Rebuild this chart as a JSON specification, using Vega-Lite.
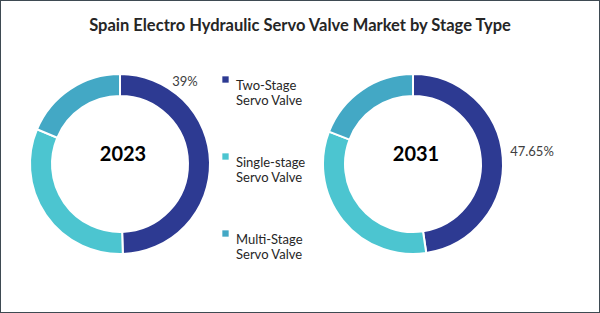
{
  "$schema": "https://vega.github.io/schema/vega-lite/v6.json",
  "width": 600,
  "height": 313,
  "autosize": {"type": "none"},
  "padding": 0,
  "background": "white",
  "title": {
    "text": "Spain Electro Hydraulic Servo Valve Market by Stage Type",
    "font": "Lato",
    "fontSize": 16.5,
    "fontWeight": "bold",
    "color": "#262626",
    "anchor": "middle",
    "offset": -34
  },
  "config": {
    "view": {"stroke": "#3e4a52", "strokeWidth": 2},
    "text": {"font": "Lato"}
  },
  "data": {
    "values": [
      {"year": "2023", "segment": "Two-Stage Servo Valve", "idx": 1, "value": 49.5, "label": "39%"},
      {"year": "2023", "segment": "Single-stage Servo Valve", "idx": 2, "value": 31.8, "label": ""},
      {"year": "2023", "segment": "Multi-Stage Servo Valve", "idx": 3, "value": 18.7, "label": ""},
      {"year": "2031", "segment": "Two-Stage Servo Valve", "idx": 1, "value": 47.65, "label": "47.65%"},
      {"year": "2031", "segment": "Single-stage Servo Valve", "idx": 2, "value": 33.2, "label": ""},
      {"year": "2031", "segment": "Multi-Stage Servo Valve", "idx": 3, "value": 19.15, "label": ""}
    ]
  },
  "transform": [
    {"stack": "value", "groupby": ["year"], "sort": [{"field": "idx", "order": "ascending"}], "as": ["t0", "t1"]}
  ],
  "encoding": {
    "x": {"field": "year", "type": "nominal", "scale": {"type": "point", "padding": 0, "range": [120, 413]}, "axis": null},
    "y": {"field": "year", "type": "nominal", "scale": {"type": "point", "padding": 0, "range": [164, 164]}, "axis": null}
  },
  "layer": [
    {
      "mark": {"type": "arc", "outerRadius": 90, "innerRadius": 68, "stroke": "white", "strokeWidth": 2},
      "encoding": {
        "theta": {"field": "t0", "type": "quantitative", "scale": {"domain": [0, 100]}},
        "theta2": {"field": "t1"},
        "color": {
          "field": "segment",
          "type": "nominal",
          "scale": {
            "domain": ["Two-Stage Servo Valve", "Single-stage Servo Valve", "Multi-Stage Servo Valve"],
            "range": ["#2d3a92", "#4cc5d0", "#43a8c5"]
          },
          "legend": {
            "orient": "none",
            "legendX": 219,
            "legendY": 73,
            "title": null,
            "symbolType": "square",
            "symbolSize": 40,
            "symbolStrokeWidth": 0,
            "labelFont": "Lato",
            "labelFontSize": 13,
            "labelColor": "#262626",
            "labelBaseline": "top",
            "labelOffset": 4,
            "labelLimit": 0,
            "rowPadding": 42,
            "labelExpr": "[replace(datum.label, ' Servo Valve', ''), 'Servo Valve']",
            "encode": {"labels": {"update": {"lineHeight": {"value": 17}, "dy": {"value": -12}}}}
          }
        }
      }
    },
    {
      "transform": [{"filter": "datum.idx == 1"}],
      "mark": {"type": "text", "fontSize": 20, "fontWeight": "bold", "color": "#000000", "dx": 3, "dy": -9},
      "encoding": {"text": {"field": "year"}}
    },
    {
      "transform": [{"filter": "datum.idx == 1 && datum.year == '2023'"}],
      "mark": {"type": "text", "fontSize": 13, "color": "#404040", "dx": 65, "dy": -82},
      "encoding": {"text": {"field": "label"}}
    },
    {
      "transform": [{"filter": "datum.idx == 1 && datum.year == '2031'"}],
      "mark": {"type": "text", "fontSize": 13, "color": "#404040", "dx": 119, "dy": -12},
      "encoding": {"text": {"field": "label"}}
    }
  ]
}
